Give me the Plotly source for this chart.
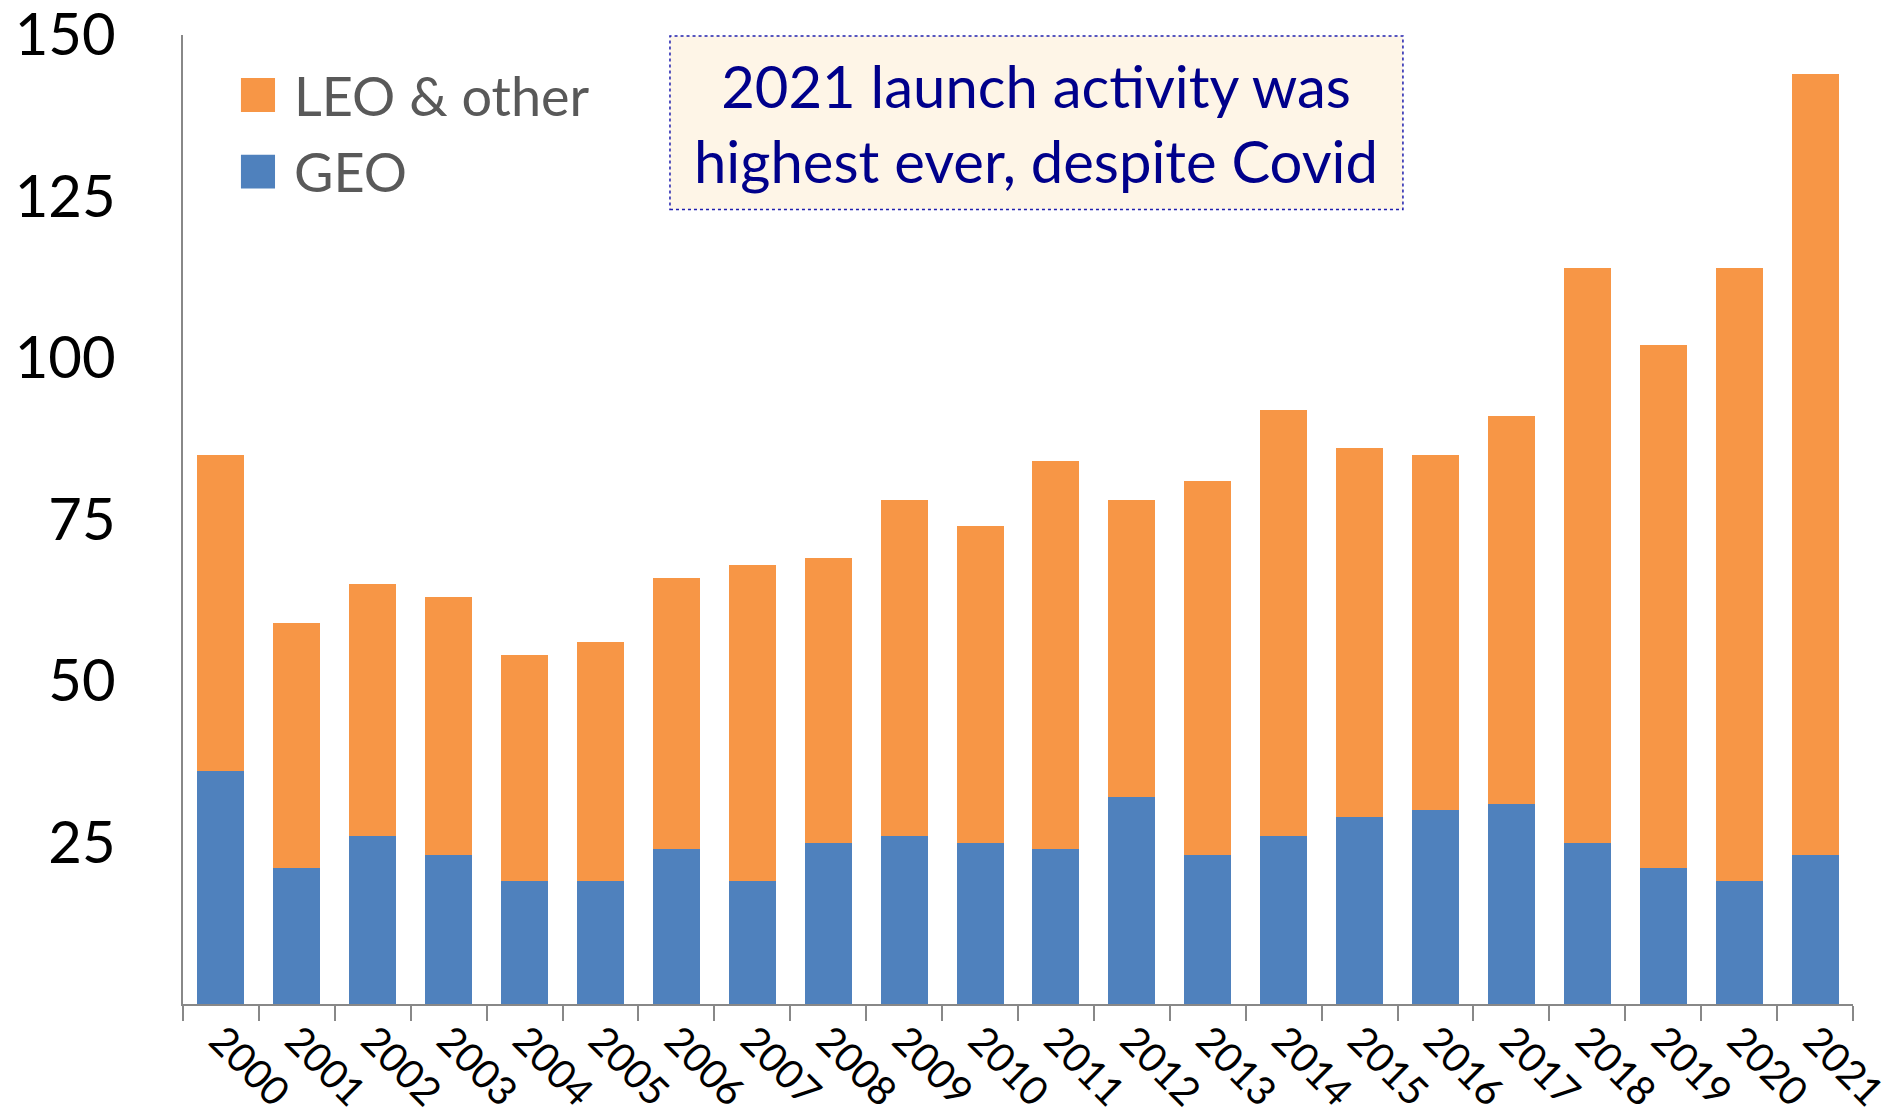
import plotly.graph_objects as go

years = [str(y) for y in range(2000, 2022)]
total = [85, 59, 65, 63, 54, 56, 66, 68, 69, 78, 74, 84, 78, 81, 92, 86, 85, 91, 114, 102, 114, 144]
geo = [36, 21, 26, 23, 19, 19, 24, 19, 25, 26, 25, 24, 32, 23, 26, 29, 30, 31, 25, 21, 19, 23]
leo = [t - g for t, g in zip(total, geo)]
y_ticks = [25, 50, 75, 100, 125, 150]

ORANGE = "#F79646"
BLUE = "#4F81BD"
FONT = "Lato"

fig = go.Figure()
fig.add_trace(go.Bar(x=years, y=geo, name="GEO", marker=dict(color=BLUE, line=dict(width=0))))
fig.add_trace(go.Bar(x=years, y=leo, name="LEO & other", marker=dict(color=ORANGE, line=dict(width=0))))

# Legend swatches and labels
legend_items = [("LEO & other", ORANGE, 0.938), ("GEO", BLUE, 0.859)]
for label, col, yc in legend_items:
    fig.add_shape(type="rect", xref="paper", yref="paper", x0=0.0347, x1=0.0551,
                  y0=yc - 0.0175, y1=yc + 0.0175, fillcolor=col, line=dict(width=0))
    fig.add_annotation(xref="paper", yref="paper", x=0.0653, y=yc, text=label, showarrow=False,
                       xanchor="left", yanchor="middle", font=dict(family=FONT, size=54, color="#595959"))

# Callout box
fig.add_shape(type="rect", xref="paper", yref="paper", x0=0.2916, x1=0.7305, y0=0.8198, y1=0.999,
              fillcolor="#FEF5E7", line=dict(color="#1F1FAF", width=1.5, dash="dot"), layer="above")
fig.add_annotation(xref="paper", yref="paper", x=0.511, y=0.9094,
                   text="2021 launch activity was<br>highest ever, despite Covid",
                   showarrow=False, xanchor="center", yanchor="middle", align="center",
                   font=dict(family=FONT, size=58, color="#00008B"))

fig.update_layout(
    barmode="stack",
    bargap=0.38,
    width=1893, height=1115,
    margin=dict(l=183, r=40, t=35, b=111),
    plot_bgcolor="white", paper_bgcolor="white",
    showlegend=False,
    font=dict(family=FONT, color="black"),
)
fig.update_yaxes(range=[0, 150], tickvals=y_ticks, ticktext=[str(v) for v in y_ticks],
                 showgrid=False, zeroline=False, showline=True, linecolor="#888888", linewidth=1.5,
                 ticks="", tickfont=dict(family=FONT, size=58, color="black"), ticklabelstandoff=54,
                 ticklabeloverflow="allow", automargin=False)
fig.update_xaxes(showgrid=False, showline=True, linecolor="#888888", linewidth=2,
                 ticks="outside", tickson="boundaries", ticklen=15, tickcolor="#888888", tickwidth=1.5,
                 tickangle=45, tickfont=dict(family=FONT, size=40, color="black"),
                 ticklabelstandoff=-5, ticklabeloverflow="allow", automargin=False)

fig.write_html("out.html")
